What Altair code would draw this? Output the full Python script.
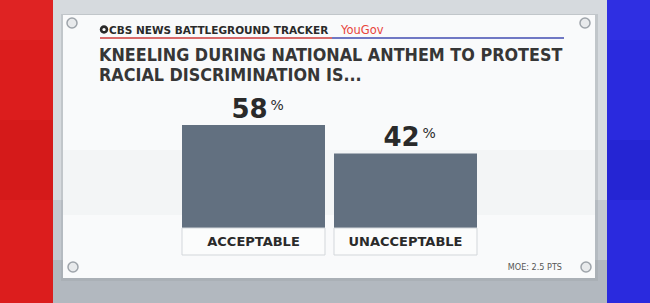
import altair as alt
import pandas as pd

# ---- data ----
categories = ["ACCEPTABLE", "UNACCEPTABLE"]
values = [58, 42]
value_labels = ["58", "42"]

header_left = "CBS NEWS BATTLEGROUND TRACKER"
header_right = "YouGov"
title_line1 = "KNEELING DURING NATIONAL ANTHEM TO PROTEST"
title_line2 = "RACIAL DISCRIMINATION IS..."
note_text = "MOE: 2.5 PTS"

df = pd.DataFrame({"cat": categories, "value": values, "label": value_labels})
one = pd.DataFrame({"a": [0]})

W, H = 650, 303
BAR = "#627080"
DARK = "#2a2a2a"
COND = "Liberation Sans Narrow, DejaVu Sans Condensed, Roboto Condensed, Roboto"

xscale = alt.Scale(domain=categories, range=[182, 477], paddingInner=9 / 152, paddingOuter=0)
yscale = alt.Scale(domain=[0, 100], range=[228, 50.4])
X = alt.X("cat:N", scale=xscale, axis=None)
Y = alt.Y("value:Q", scale=yscale, axis=None)

base1 = alt.Chart(one)

def rect(x, x2, y, y2, **kw):
    return base1.mark_rect(**kw).encode(
        x=alt.value(x), x2=alt.value(x2), y=alt.value(y), y2=alt.value(y2))

def circ(cx, cy, r, **kw):
    return base1.mark_rect(cornerRadius=r, **kw).encode(
        x=alt.value(cx - r), x2=alt.value(cx + r), y=alt.value(cy - r), y2=alt.value(cy + r))

def txt(s, x, y, **kw):
    return base1.mark_text(text=s, **kw).encode(x=alt.value(x), y=alt.value(y))

layers = [
    rect(0, 325, 0, H, fill="#dc1d1d"),
    rect(0, 53, 0, 40, fill="#e43030", opacity=0.35),
    rect(0, 53, 120, 200, fill="#c81616", opacity=0.35),
    rect(325, W, 0, H, fill="#2a2ade"),
    rect(607, W, 0, 40, fill="#3a3aea", opacity=0.35),
    rect(607, W, 140, 200, fill="#1e1ec0", opacity=0.35),
    rect(53, 607, 0, H, fill="#d6dade"),
    rect(53, 607, 200, H, fill="#b8bec4", opacity=0.6),
    rect(53, 607, 260, H, fill="#a6adb4", opacity=0.6),
    rect(61, 598, 14, 281, fill="#9aa0a6", opacity=0.35),
    rect(63, 595, 15, 278, fill="#f9fafb"),
    rect(63, 595, 150, 215, fill="#e9ecef", opacity=0.35),
]

# screws
for sx, sy in [(72, 23), (585, 23), (73, 267), (586, 267)]:
    layers.append(circ(sx, sy, 5, fill="#e8eaec", stroke="#9ea4aa", strokeWidth=1.5))

# header
layers += [
    circ(104, 29.5, 4.2, fill=DARK),
    circ(104, 29.5, 1.6, fill="#ffffff"),
    txt(header_left, 109, 34, font="DejaVu Sans", fontWeight="bold",
        fontSize=10.5, color=DARK, align="left", baseline="alphabetic"),
    txt(header_right, 341, 34, font="DejaVu Sans", fontSize=11.5, color="#e8453c",
        align="left", baseline="alphabetic"),
    rect(100, 332, 37, 39, fill="#d86a6a"),
    rect(332, 564, 37, 39, fill="#7078c4"),
    txt(title_line1, 99, 61, font=COND, fontWeight="bold",
        fontSize=17.8, color="#363636", align="left", baseline="alphabetic"),
    txt(title_line2, 99, 81, font=COND, fontWeight="bold",
        fontSize=17.8, color="#363636", align="left", baseline="alphabetic"),
    txt(note_text, 562, 270, font=COND, fontSize=9,
        color="#555555", align="right", baseline="alphabetic"),
]

chart_base = alt.Chart(df)
bars = chart_base.mark_bar(color=BAR).encode(x=X, y=Y)
boxes = chart_base.mark_rect(fill="#fbfcfc", stroke="#d3d7db", strokeWidth=1).encode(
    x=X, y=alt.value(228), y2=alt.value(255))
box_text = chart_base.mark_text(font="DejaVu Sans", fontWeight="bold", fontSize=13,
                                color=DARK, baseline="middle").encode(
    x=X, y=alt.value(242), text="cat:N")
num_text = chart_base.mark_text(font="DejaVu Sans", fontWeight="bold", fontSize=26,
                                color=DARK, baseline="alphabetic", dx=-4, dy=-7).encode(
    x=X, y=Y, text="label:N")
pct_text = chart_base.mark_text(text="%", font="DejaVu Sans", fontSize=14,
                                color=DARK, baseline="alphabetic", align="left", dx=17, dy=-15).encode(
    x=X, y=Y)

layers += [bars, boxes, box_text, num_text, pct_text]

chart = alt.layer(*layers).properties(
    width=W, height=H, padding=0, autosize=alt.AutoSizeParams(type="none"),
    background="#d8dcdf"
).configure_view(strokeWidth=0)

chart.save("out.html", embed_options={"renderer": "svg", "actions": False})
